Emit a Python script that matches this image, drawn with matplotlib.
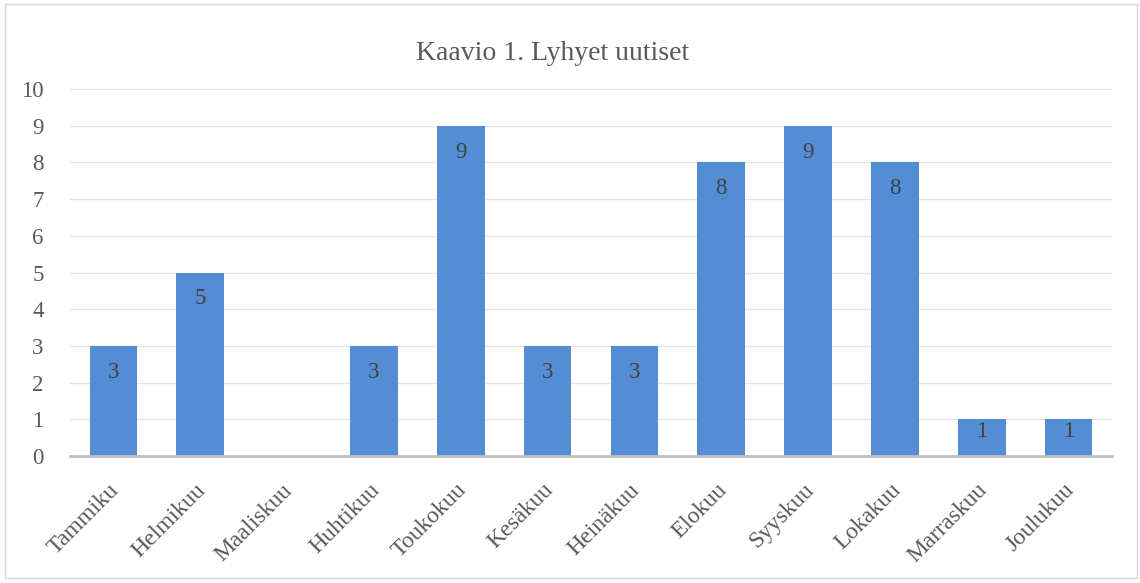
import matplotlib.pyplot as plt
import matplotlib.transforms as mtransforms
import numpy as np
from matplotlib.patches import Rectangle

# data
months = ['Tammiku', 'Helmikuu', 'Maaliskuu', 'Huhtikuu', 'Toukokuu', 'Kesäkuu',
          'Heinäkuu', 'Elokuu', 'Syyskuu', 'Lokakuu', 'Marraskuu', 'Joulukuu']
counts = [3, 5, 0, 3, 9, 3, 3, 8, 9, 8, 1, 1]

plt.rcParams['font.family'] = ['Liberation Serif', 'DejaVu Serif']
txt_col = '#595959'

fig = plt.figure(figsize=(11.4, 5.83), dpi=100, facecolor='w')
ax = fig.add_axes([0.0614, 0.2178, 0.914, 0.6295])

x = np.arange(len(months))
bars = ax.bar(x, counts, width=0.55, color='#548DD4', zorder=3)

# labels inside bar tops (short bars get them nearer the middle)
for xi, v in zip(x, counts):
    if v > 0:
        ax.text(xi, v - min(0.72, v * 0.34), str(v), ha='center', va='center',
                fontsize=16.5, color='#404040', zorder=4)

ax.set_xlim(-0.5, len(months) - 0.5)
ax.set_ylim(0, 10)
ax.set_yticks(range(0, 11))
ax.yaxis.grid(True, color='#E6E6E6', lw=1, zorder=0)
ax.set_xticks(x)
ax.set_xticklabels(months, rotation=45, ha='right', rotation_mode='anchor')
ax.tick_params(axis='both', length=0, colors=txt_col)
ax.tick_params(axis='x', pad=17, labelsize=17)
ax.tick_params(axis='y', pad=19, labelsize=16.5)
shift = mtransforms.ScaledTranslation(-5 / 100, 0, fig.dpi_scale_trans)
for lbl in ax.get_xticklabels():
    lbl.set_transform(lbl.get_transform() + shift)
for s in ['top', 'right', 'left']:
    ax.spines[s].set_visible(False)
ax.spines['bottom'].set_color('#BFBFBF')
ax.spines['bottom'].set_linewidth(2)
ax.spines['bottom'].set_zorder(5)

fig.text(0.485, 0.909, 'Kaavio 1. Lyhyet uutiset', ha='center', va='center', fontsize=20, color=txt_col)

# chart border
fig.patches.append(Rectangle((0.004, 0.008), 0.993, 0.985, transform=fig.transFigure,
                             fill=False, edgecolor='#D9D9D9', lw=1))

fig.savefig('out.png')
